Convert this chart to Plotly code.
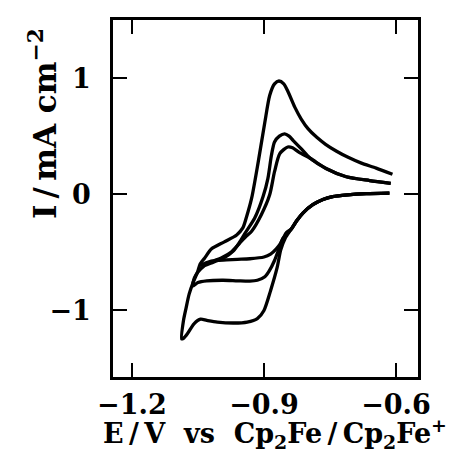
import plotly.graph_objects as go

# cyclic voltammograms, three scans (largest to smallest)
# each list runs cathodic from -0.61 V to the vertex, then back anodic
e_big = [-0.615, -0.668, -0.71, -0.744, -0.766, -0.789, -0.811, -0.826, -0.838,
         -0.852, -0.862, -0.870, -0.885, -0.900, -0.915, -0.938, -0.968, -1.006,
         -1.030, -1.044, -1.059, -1.074, -1.083, -1.087,
         -1.083, -1.077, -1.070, -1.060, -1.051, -1.045, -1.035, -1.019, -0.99,
         -0.962, -0.948, -0.940, -0.928, -0.913, -0.898, -0.887, -0.876, -0.866,
         -0.855, -0.845, -0.83, -0.815, -0.80, -0.78, -0.76, -0.735, -0.71,
         -0.68, -0.645, -0.608]
i_big = [0.01, 0.005, -0.005, -0.02, -0.045, -0.09, -0.16, -0.23, -0.30,
         -0.38, -0.48, -0.63, -0.83, -1.00, -1.07, -1.10, -1.108, -1.10,
         -1.085, -1.075, -1.115, -1.20, -1.24, -1.245,
         -1.09, -0.98, -0.86, -0.75, -0.67, -0.60, -0.55, -0.47, -0.41,
         -0.35, -0.29, -0.20, -0.034, 0.279, 0.62, 0.85, 0.95, 0.975,
         0.95, 0.88, 0.75, 0.645, 0.565, 0.49, 0.43, 0.37, 0.32,
         0.27, 0.225, 0.172]

e_mid = [-0.615, -0.668, -0.71, -0.744, -0.766, -0.789, -0.811, -0.826, -0.838,
         -0.857, -0.866, -0.876, -0.888, -0.898, -0.915, -0.932, -0.96, -0.993,
         -1.030, -1.050, -1.062,
         -1.058, -1.050, -1.037, -1.015, -0.99, -0.97, -0.955, -0.942, -0.921,
         -0.902, -0.891, -0.883, -0.876, -0.865, -0.853, -0.843, -0.834, -0.815,
         -0.795, -0.759, -0.713, -0.66, -0.612]
i_mid = [0.01, 0.005, -0.005, -0.02, -0.045, -0.09, -0.16, -0.23, -0.30,
         -0.38, -0.47, -0.57, -0.66, -0.71, -0.74, -0.748, -0.745, -0.74,
         -0.745, -0.76, -0.79,
         -0.72, -0.67, -0.62, -0.585, -0.545, -0.49, -0.41, -0.33, -0.205,
         -0.02, 0.137, 0.336, 0.45, 0.50, 0.52, 0.50, 0.464, 0.39,
         0.31, 0.222, 0.151, 0.118, 0.094]

e_small = [-0.615, -0.668, -0.71, -0.744, -0.766, -0.789, -0.811, -0.826, -0.838,
           -0.849, -0.862, -0.872, -0.885, -0.900, -0.932, -0.96, -0.985, -1.01,
           -1.028, -1.042,
           -1.035, -1.015, -0.995, -0.975, -0.955, -0.94, -0.928, -0.906, -0.887,
           -0.876, -0.864, -0.846, -0.835, -0.82, -0.795, -0.759, -0.713, -0.66,
           -0.612]
i_small = [0.01, 0.005, -0.005, -0.02, -0.045, -0.09, -0.16, -0.23, -0.30,
           -0.33, -0.42, -0.47, -0.515, -0.54, -0.555, -0.56, -0.565, -0.57,
           -0.585, -0.61,
           -0.60, -0.575, -0.545, -0.50, -0.42, -0.36, -0.318, -0.176, -0.005,
           0.194, 0.35, 0.407, 0.40, 0.36, 0.31, 0.222, 0.151, 0.118,
           0.094]

x_ticks = [-1.2, -0.9, -0.6]
x_labels = ["\u22121.2", "\u22120.9", "\u22120.6"]
y_ticks = [-1, 0, 1]
y_labels = ["\u22121", "0", "1"]

serif = "DejaVu Serif"
thin = "\u2009"
gap = "\u00a0\u00a0"

fig = go.Figure()
for e, i in [(e_big, i_big), (e_mid, i_mid), (e_small, i_small)]:
    fig.add_trace(go.Scatter(x=e, y=i, mode='lines',
                             line=dict(color='black', width=3.3, shape='spline', smoothing=0.7),
                             showlegend=False, hoverinfo='skip'))

axis_style = dict(showgrid=False, zeroline=False, showline=True, linecolor='black',
                  linewidth=2.5, mirror='ticks', ticks='inside', ticklen=14,
                  tickwidth=2, tickcolor='black',
                  tickfont=dict(family=serif, size=27, color='black', weight='bold'))

# both titles are annotations so they can sit where the original puts them
fig.add_annotation(text="I" + thin + "/" + thin + "mA\u00a0cm<sup>\u22122</sup>", textangle=-90,
                   xref='paper', yref='paper', x=-0.231, y=0.71,
                   xanchor='center', yanchor='middle', showarrow=False,
                   font=dict(family=serif, size=31, color='black', weight='bold'))

x_title = ("E" + thin + "/" + thin + "V" + gap + "vs" + gap +
           "Cp<sub>2</sub>Fe" + thin + "/" + thin + "Cp<sub>2</sub>Fe<sup>+</sup>")
fig.add_annotation(text=x_title, xref='paper', yref='paper', x=0.531, y=-0.158,
                   xanchor='center', yanchor='middle', showarrow=False,
                   font=dict(family=serif, size=27, color='black', weight='bold'))

fig.update_layout(
    width=463, height=463,
    margin=dict(l=105, r=53, t=9, b=94),
    plot_bgcolor='white',
    paper_bgcolor='white',
    xaxis=dict(range=[-1.243, -0.55], tickvals=x_ticks, ticktext=x_labels,
               ticklabelstandoff=2, **axis_style),
    yaxis=dict(range=[-1.573, 1.5], tickvals=y_ticks, ticktext=y_labels,
               ticklabelstandoff=14, **axis_style),
)

fig.write_html("out.html")
